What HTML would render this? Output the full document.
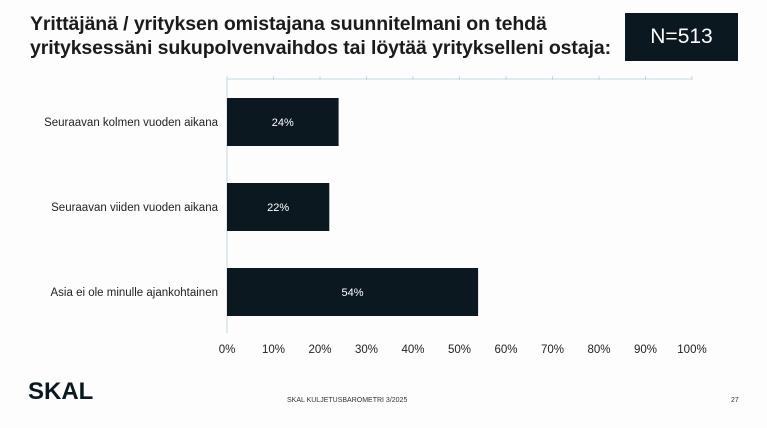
<!DOCTYPE html>
<html><head><meta charset="utf-8"><style>
body{margin:0;width:767px;height:428px;background:#fdfdfd;font-family:"Liberation Sans",sans-serif;position:relative;overflow:hidden}
.title{position:absolute;left:30px;top:12px;font-size:19.5px;font-weight:bold;color:#1b1b1b;line-height:24px;letter-spacing:-0.1px}
.nbox{position:absolute;left:625px;top:13px;width:113px;height:48px;background:#0b1820;color:#fff;font-size:21px;display:flex;align-items:center;justify-content:center}
.logo{position:absolute;left:28px;top:378px;font-size:24px;font-weight:bold;color:#0b1820;letter-spacing:0px}
.foot{position:absolute;left:287px;top:397px;font-size:7px;color:#333}
.pg{position:absolute;left:731px;top:397px;font-size:7px;color:#333}
</style></head><body>
<div class="title">Yrittäjänä / yrityksen omistajana suunnitelmani on tehdä<br>yrityksessäni sukupolvenvaihdos tai löytää yritykselleni ostaja:</div>
<div class="nbox">N=513</div>
<svg id="chart" width="767" height="428" style="position:absolute;left:0;top:0"></svg>
<div class="logo">SKAL</div>
<div class="foot">SKAL KULJETUSBAROMETRI 3/2025</div>
<div class="pg">27</div>
<script>
const categories=["Seuraavan kolmen vuoden aikana","Seuraavan viiden vuoden aikana","Asia ei ole minulle ajankohtainen"];
const values=[24,22,54];
const valueLabels=["24%","22%","54%"];
const ticks=[0,10,20,30,40,50,60,70,80,90,100];
const NS="http://www.w3.org/2000/svg";
const svg=document.getElementById('chart');
const x0=227,x1=692,axisY=79,rowTop=98,rowStep=85,barH=48;
const xs=v=>x0+(x1-x0)*v/100;
function mk(t,a){const e=document.createElementNS(NS,t);for(const k in a)e.setAttribute(k,a[k]);svg.appendChild(e);return e;}
let l=mk('line',{x1:x0,y1:axisY,x2:x1,y2:axisY,stroke:'#c5d6e0','stroke-width':1});


l=mk('line',{x1:x0,y1:axisY,x2:x0,y2:333,stroke:'#c5d6e0','stroke-width':1});


ticks.forEach(t=>{
 const tk=mk('line',{x1:xs(t),y1:axisY-3,x2:xs(t),y2:axisY+1,stroke:'#c5d6e0'});
 
 
 const tx=mk('text',{x:xs(t),y:353,'text-anchor':'middle','font-size':11.5,fill:'#222'});
 tx.textContent=t+'%';
 
 
});
categories.forEach((c,i)=>{
 const y=rowTop+i*rowStep;
 const r=mk('rect',{x:x0,y:y,width:xs(values[i])-x0,height:barH,fill:'#0b1820'});
 
 
 const v=mk('text',{x:(x0+xs(values[i]))/2,y:y+barH/2+4,'text-anchor':'middle','font-size':11,fill:'#fff'});
 v.textContent=valueLabels[i];
 
 
 const lb=mk('text',{x:x0-9,y:y+barH/2+4,'text-anchor':'end','font-size':11.5,fill:'#222'});
 lb.textContent=c;
 
 
});
</script>
</body></html>
